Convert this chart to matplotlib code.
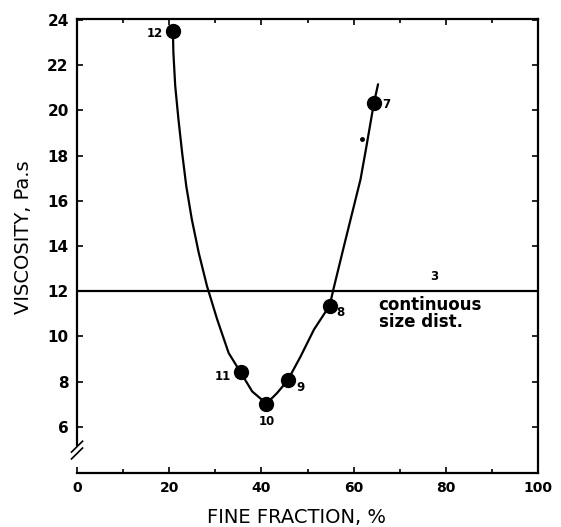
import matplotlib
matplotlib.use("Agg")
import matplotlib.pyplot as plt

plt.rcParams['font.family'] = ['DejaVu Sans']

# Measured points (fine fraction %, viscosity Pa.s) with their sample numbers
pt_x = [20.8, 35.5, 41.1, 45.7, 54.8, 64.4]
pt_y = [23.53, 8.40, 7.02, 8.05, 11.36, 20.32]
pt_labels = ["12", "11", "10", "9", "8", "7"]

# Hand-drawn fitted curve
curve_x = [20.8, 20.9, 21.3, 22.0, 22.8, 23.7, 24.9, 26.4, 28.2, 30.4, 32.9, 35.5,
           38.0, 41.1, 43.4, 45.7, 48.5, 51.4, 54.8, 55.7, 57.9, 59.7, 61.5, 62.8,
           64.4, 65.3]
curve_y = [23.53, 22.57, 21.09, 19.61, 18.13, 16.65, 15.18, 13.70, 12.22, 10.75, 9.26, 8.40,
           7.56, 7.02, 7.49, 8.05, 9.11, 10.30, 11.36, 12.15, 13.99, 15.47, 16.95, 18.43,
           20.32, 21.16]

# Reference: continuous size distribution (sample 3)
ref_level = 12.0
ref_label = "3"
ref_text = "continuous\nsize dist."

# Stray speck in the original figure
speck_x = [61.9]
speck_y = [18.72]

x_ticks = [0, 20, 40, 60, 80, 100]
x_minor = [10, 30, 50, 70, 90]
y_ticks = [6, 8, 10, 12, 14, 16, 18, 20, 22, 24]

fig = plt.figure(figsize=(5.61, 5.27), dpi=100)
ax = fig.add_axes([0.1373, 0.1025, 0.8217, 0.8615])

ax.plot(curve_x, curve_y, color='black', lw=1.6, solid_capstyle='round',
        solid_joinstyle='round')
ax.plot(pt_x, pt_y, 'o', color='black', ms=10)
ax.plot(speck_x, speck_y, 'o', color='black', ms=2.5)
ax.axhline(ref_level, color='black', lw=1.6)

# point labels
offsets = {"12": (-7, -2, 'right', 'center'),
           "11": (-7, -3, 'right', 'center'),
           "10": (0, -8, 'center', 'top'),
           "9": (6, -5, 'left', 'center'),
           "8": (5, -5, 'left', 'center'),
           "7": (6, -1, 'left', 'center')}
for x, y, lab in zip(pt_x, pt_y, pt_labels):
    dx, dy, ha, va = offsets[lab]
    ax.annotate(lab, (x, y), xytext=(dx, dy), textcoords='offset points',
                ha=ha, va=va, fontsize=8.5, fontweight='bold')

ax.text(77.4, 12.35, ref_label, ha='center', va='bottom', fontsize=8.5, fontweight='bold')
ax.text(65.4, 11.8, ref_text, ha='left', va='top', fontsize=12, fontweight='bold',
        linespacing=0.95)

ax.set_xlim(0, 100)
ax.set_ylim(3.95, 24.05)

ax.set_xticks(x_ticks)
ax.set_xticks(x_minor, minor=True)
ax.set_yticks(y_ticks)
ax.set_xticklabels([str(t) for t in x_ticks], fontweight='bold', fontsize=10)
ax.set_yticklabels([str(t) for t in y_ticks], fontweight='bold', fontsize=11)
ax.tick_params(axis='both', which='both', direction='in', width=1.2,
               top=True, right=True)
ax.tick_params(axis='both', which='major', length=4, pad=6)
ax.tick_params(axis='both', which='minor', length=3)

for s in ax.spines.values():
    s.set_linewidth(1.6)
ax.spines['left'].set_bounds(5.2, 24.05)

# axis break marks on the left spine
for yy in (0.043, 0.058):
    ax.plot([-0.012, 0.012], [yy - 0.012, yy + 0.012], transform=ax.transAxes,
            color='black', lw=1.2, clip_on=False)

ax.set_xlabel("FINE FRACTION, %", fontsize=14)
ax.set_ylabel("VISCOSITY, Pa.s", fontsize=14)
ax.xaxis.set_label_coords(0.477, -0.078)
ax.yaxis.set_label_coords(-0.095, 0.52)

fig.savefig("out.png", dpi=100)
